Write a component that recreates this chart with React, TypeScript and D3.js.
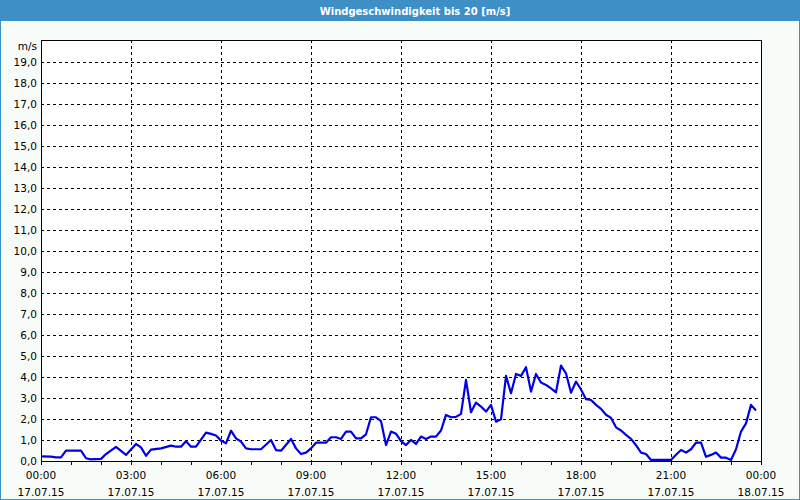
import React from "react";
import * as d3 from "d3";

const TITLE = "Windgeschwindigkeit bis 20 [m/s]";
const UNIT = "m/s";

// minutes since 17.07.15 00:00
const minutes = [
  0, 20, 30, 40, 50, 80, 90, 100, 120, 130, 150, 170, 190, 200, 210, 220, 240, 260, 270, 280,
  290, 300, 310, 330, 340, 350, 360, 370, 380, 390, 400, 410, 420, 440, 460, 470, 480, 500, 510, 520,
  530, 540, 550, 570, 580, 590, 600, 610, 620, 630, 640, 650, 660, 670, 680, 690, 700, 710, 720, 730,
  740, 750, 760, 770, 780, 790, 800, 810, 820, 830, 840, 850, 860, 870, 880, 890, 900, 910, 920, 930,
  940, 950, 960, 970, 980, 990, 1000, 1010, 1020, 1030, 1040, 1050, 1060, 1070, 1080, 1090, 1100, 1110, 1120, 1130,
  1140, 1150, 1160, 1170, 1180, 1190, 1200, 1210, 1220, 1260, 1270, 1280, 1290, 1300, 1310, 1320, 1330, 1340, 1350, 1360,
  1370, 1380, 1390, 1400, 1410, 1420, 1430,
];
const speeds = [
  0.22, 0.21, 0.17, 0.17, 0.49, 0.49, 0.13, 0.08, 0.1, 0.33, 0.67, 0.29, 0.81, 0.65, 0.25, 0.54, 0.6, 0.73, 0.68, 0.68,
  0.94, 0.68, 0.68, 1.35, 1.29, 1.21, 0.97, 0.84, 1.44, 1.08, 0.92, 0.6, 0.56, 0.56, 1.0, 0.52, 0.49, 1.05, 0.6, 0.33,
  0.4, 0.6, 0.87, 0.87, 1.13, 1.13, 1.05, 1.4, 1.4, 1.08, 1.08, 1.27, 2.08, 2.08, 1.9, 0.76, 1.4, 1.3, 0.95, 0.76,
  1.0, 0.81, 1.16, 1.05, 1.16, 1.16, 1.45, 2.19, 2.08, 2.1, 2.24, 3.86, 2.32, 2.78, 2.59, 2.35, 2.67, 1.87, 1.98, 4.05,
  3.22, 4.14, 4.05, 4.46, 3.3, 4.14, 3.73, 3.62, 3.45, 3.27, 4.54, 4.17, 3.25, 3.78, 3.4, 2.94, 2.9, 2.67, 2.48, 2.2,
  2.05, 1.6, 1.45, 1.24, 1.05, 0.75, 0.4, 0.33, 0.05, 0.05, 0.3, 0.52, 0.4, 0.56, 0.87, 0.87, 0.2, 0.29, 0.4, 0.16,
  0.16, 0.05, 0.56, 1.4, 1.79, 2.67, 2.4,
];

const yTicks = d3.range(0, 20, 1);
const xTickHours = [0, 3, 6, 9, 12, 15, 18, 21, 24];
const xTimeLabels = ["00:00", "03:00", "06:00", "09:00", "12:00", "15:00", "18:00", "21:00", "00:00"];
const xDateLabels = ["17.07.15", "17.07.15", "17.07.15", "17.07.15", "17.07.15", "17.07.15", "17.07.15", "17.07.15", "18.07.15"];

const W = 800;
const H = 500;
const L = 41;
const R = 761;
const T = 40;
const B = 461;

export default function App() {
  const x = d3.scaleLinear().domain([0, 24 * 60]).range([L, R]);
  const y = d3.scaleLinear().domain([0, 20]).range([B, T + 0.5]);
  const data = minutes.map((m, i) => [m, speeds[i]] as [number, number]);
  const line = d3
    .line<[number, number]>()
    .x((d) => x(d[0]))
    .y((d) => y(d[1]));
  const font = "Tahoma, 'DejaVu Sans', sans-serif";
  const hours = d3.range(0, 25, 1);
  return (
    <svg
      width={W}
      height={H}
      style={{ position: "absolute", left: 0, top: 0 }}
      fontFamily={font}
    >
      <rect x={0} y={0} width={W} height={H} fill="#f8fcf8" />
      <rect x={0.5} y={0.5} width={W - 1} height={H - 1} fill="none" stroke="#3d8fc6" />
      <rect x={0} y={0} width={W} height={21} fill="#3d8fc6" />
      <text x={415} y={15} fill="#ffffff" fontSize={10} fontWeight="bold" textAnchor="middle">
        {TITLE}
      </text>
      <rect x={L} y={T} width={R - L} height={B - T} fill="#ffffff" />
      {/* horizontal grid */}
      {yTicks
        .filter((v) => v > 0)
        .map((v) => (
          <line
            key={"h" + v}
            x1={L}
            x2={R}
            y1={Math.round(y(v)) + 0.5}
            y2={Math.round(y(v)) + 0.5}
            stroke="#000"
            strokeDasharray="3,3"
            shapeRendering="crispEdges"
          />
        ))}
      {/* vertical grid */}
      {xTickHours
        .filter((h) => h > 0 && h < 24)
        .map((h) => (
          <line
            key={"v" + h}
            x1={Math.round(x(h * 60)) + 0.5}
            x2={Math.round(x(h * 60)) + 0.5}
            y1={T}
            y2={B + 5}
            stroke="#000"
            strokeDasharray="3,3"
            shapeRendering="crispEdges"
          />
        ))}
      {/* hour ticks */}
      {hours.map((h) => (
        <line
          key={"t" + h}
          x1={Math.round(x(h * 60)) + 0.5}
          x2={Math.round(x(h * 60)) + 0.5}
          y1={B}
          y2={B + 4}
          stroke="#000"
          shapeRendering="crispEdges"
        />
      ))}
      <path d={line(data) || ""} fill="none" stroke="#0000e6" strokeWidth={2.2} strokeLinejoin="round" />
      <rect
        x={L + 0.5}
        y={T + 0.5}
        width={R - L}
        height={B - T}
        fill="none"
        stroke="#000"
        shapeRendering="crispEdges"
      />
      {/* y labels */}
      {yTicks.map((v) => (
        <text key={"yl" + v} x={37} y={y(v) + 4} fontSize={10.5} textAnchor="end" fill="#000">
          {v.toFixed(1).replace(".", ",")}
        </text>
      ))}
      <text x={37} y={50} fontSize={10.5} textAnchor="end" fill="#000">
        {UNIT}
      </text>
      {/* x labels */}
      {xTickHours.map((h, i) => (
        <g key={"xl" + h}>
          <text x={x(h * 60)} y={479} fontSize={10.5} textAnchor="middle" fill="#000">
            {xTimeLabels[i]}
          </text>
          <text x={x(h * 60)} y={496} fontSize={10.5} textAnchor="middle" fill="#000">
            {xDateLabels[i]}
          </text>
        </g>
      ))}
    </svg>
  );
}
